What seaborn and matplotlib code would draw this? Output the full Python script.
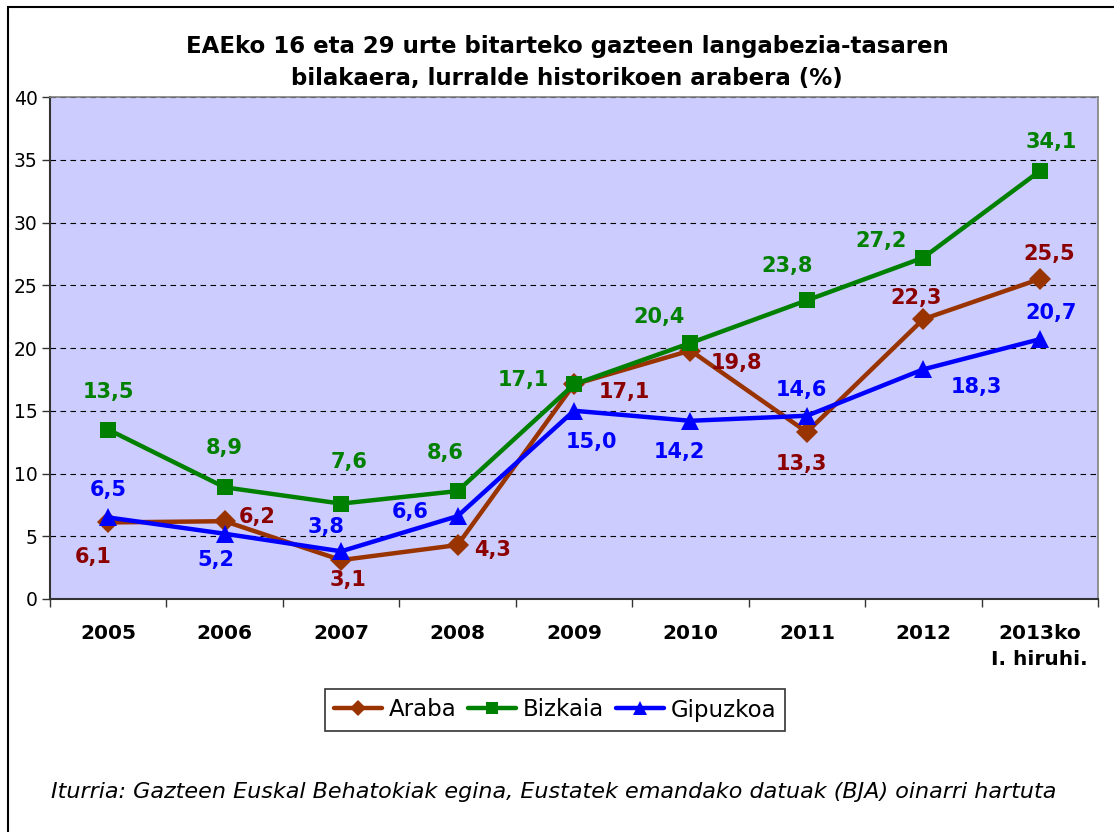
"""
EAEko gazteen langabezia-tasa, lurralde historikoen arabera (2005-2013)
Lerro-grafikoa seaborn bidez.
"""

import numpy as np
import pandas as pd
import matplotlib
matplotlib.use('Agg')
import matplotlib.pyplot as plt
from matplotlib.patches import Rectangle
import seaborn as sns

# Datuak
urteak = ['2005', '2006', '2007', '2008', '2009', '2010', '2011', '2012',
          '2013ko\nI. hiruhi.']
araba = [6.1, 6.2, 3.1, 4.3, 17.1, 19.8, 13.3, 22.3, 25.5]
bizkaia = [13.5, 8.9, 7.6, 8.6, 17.1, 20.4, 23.8, 27.2, 34.1]
gipuzkoa = [6.5, 5.2, 3.8, 6.6, 15.0, 14.2, 14.6, 18.3, 20.7]
lurraldeak = ['Araba', 'Bizkaia', 'Gipuzkoa']

izenburua = ('EAEko 16 eta 29 urte bitarteko gazteen langabezia-tasaren\n'
             'bilakaera, lurralde historikoen arabera (%)')
iturria = ('Iturria: Gazteen Euskal Behatokiak egina, Eustatek emandako '
           'datuak (BJA) oinarri hartuta')

# Estiloa
lerro_kolorea = {'Araba': '#993300', 'Bizkaia': '#008000', 'Gipuzkoa': '#0000FF'}
testu_kolorea = {'Araba': '#8B0000', 'Bizkaia': '#008000', 'Gipuzkoa': '#0000FF'}
markatzaileak = {'Araba': 'D', 'Bizkaia': 's', 'Gipuzkoa': '^'}
marka_tamaina = {'Araba': 11, 'Bizkaia': 12, 'Gipuzkoa': 13}

# Etiketen desplazamenduak (pixeletan)
desp = {
    'Araba': [(-15, -35), (33, 4), (7, -20), (35, -5), (50, -8), (46, -12),
              (-6, -32), (-7, 21), (9, 25)],
    'Bizkaia': [(0, 38), (0, 39), (8, 42), (-12, 38), (-51, 4), (-31, 26),
                (-20, 34), (-42, 17), (11, 29)],
    'Gipuzkoa': [(0, 27), (-9, -26), (-15, 24), (-47, 4), (17, -31), (-11, -31),
                 (-6, 26), (53, -18), (11, 26)],
}

sns.set_theme(style='ticks')
plt.rcParams['font.family'] = ['DejaVu Sans']
plt.rcParams['text.color'] = 'black'
plt.rcParams['xtick.color'] = 'black'
plt.rcParams['ytick.color'] = 'black'

df = pd.DataFrame({
    'x': np.tile(np.arange(len(urteak)), 3),
    'balioa': araba + bizkaia + gipuzkoa,
    'lurraldea': np.repeat(lurraldeak, len(urteak)),
})

fig = plt.figure(figsize=(11.14, 8.32), dpi=100)
ax = fig.add_axes([50 / 1114, 1 - 599 / 832, 1048 / 1114, 502 / 832])
ax.set_facecolor('#CCCCFF')

for lur in lurraldeak:
    sub = df[df['lurraldea'] == lur]
    sns.lineplot(data=sub, x='x', y='balioa', ax=ax, color=lerro_kolorea[lur],
                 linewidth=3.2, marker=markatzaileak[lur],
                 markersize=marka_tamaina[lur], markeredgewidth=0,
                 label=lur, legend=False)
    for i, v in enumerate(sub['balioa']):
        dx, dy = desp[lur][i]
        ax.annotate(f'{v:.1f}'.replace('.', ','), (i, v),
                    xytext=(dx, dy), textcoords='offset pixels',
                    ha='center', va='center', fontsize=15, fontweight='bold',
                    color=testu_kolorea[lur])

ax.set_xlim(-0.5, len(urteak) - 0.5)
ax.set_ylim(0, 40)
ax.set_yticks(range(0, 41, 5))
ax.yaxis.grid(True, linestyle=(0, (5, 4)), color='black', linewidth=0.8)
ax.set_axisbelow(True)

ax.set_xticks(np.arange(len(urteak)))
ax.set_xticklabels(urteak, fontsize=14.5, fontweight='bold', linespacing=1.45)
ax.set_xticks(np.arange(-0.5, len(urteak), 1), minor=True)
ax.tick_params(axis='x', which='major', length=0, pad=18)
ax.tick_params(axis='x', which='minor', length=6, width=1, color='#333333')
ax.tick_params(axis='y', length=6, width=1, color='#333333', labelsize=13.5, pad=3)
ax.set_xlabel('')
ax.set_ylabel('')

for s in ['left', 'bottom']:
    ax.spines[s].set_color('#333333')
    ax.spines[s].set_linewidth(1.5)
for s in ['top', 'right']:
    ax.spines[s].set_visible(True)
    ax.spines[s].set_color('#808080')
    ax.spines[s].set_linewidth(1.2)

fig.text(567 / 1114, 1 - 62 / 832, izenburua, ha='center', va='center',
         fontsize=16.5, fontweight='bold', linespacing=1.5)

handles, labels = ax.get_legend_handles_labels()
leg = fig.legend(handles, labels, loc='center', ncol=3,
                 bbox_to_anchor=(555 / 1114, 1 - 710 / 832),
                 fontsize=16.5, frameon=True, fancybox=False, edgecolor='black',
                 handlelength=2.1, handletextpad=0.3, columnspacing=0.5,
                 borderpad=0.4, markerscale=0.75)
leg.get_frame().set_linewidth(1.2)

fig.text(554 / 1114, 1 - 792 / 832, iturria, ha='center', va='center',
         fontsize=16, style='italic')

# Kanpoko markoa
fig.patches.append(Rectangle((8 / 1114, -0.1), 1.2, 0.1 + 1 - 7 / 832,
                             transform=fig.transFigure, fill=False,
                             edgecolor='black', linewidth=1.5, clip_on=False))

fig.savefig('out.png', dpi=100)
plt.close(fig)
